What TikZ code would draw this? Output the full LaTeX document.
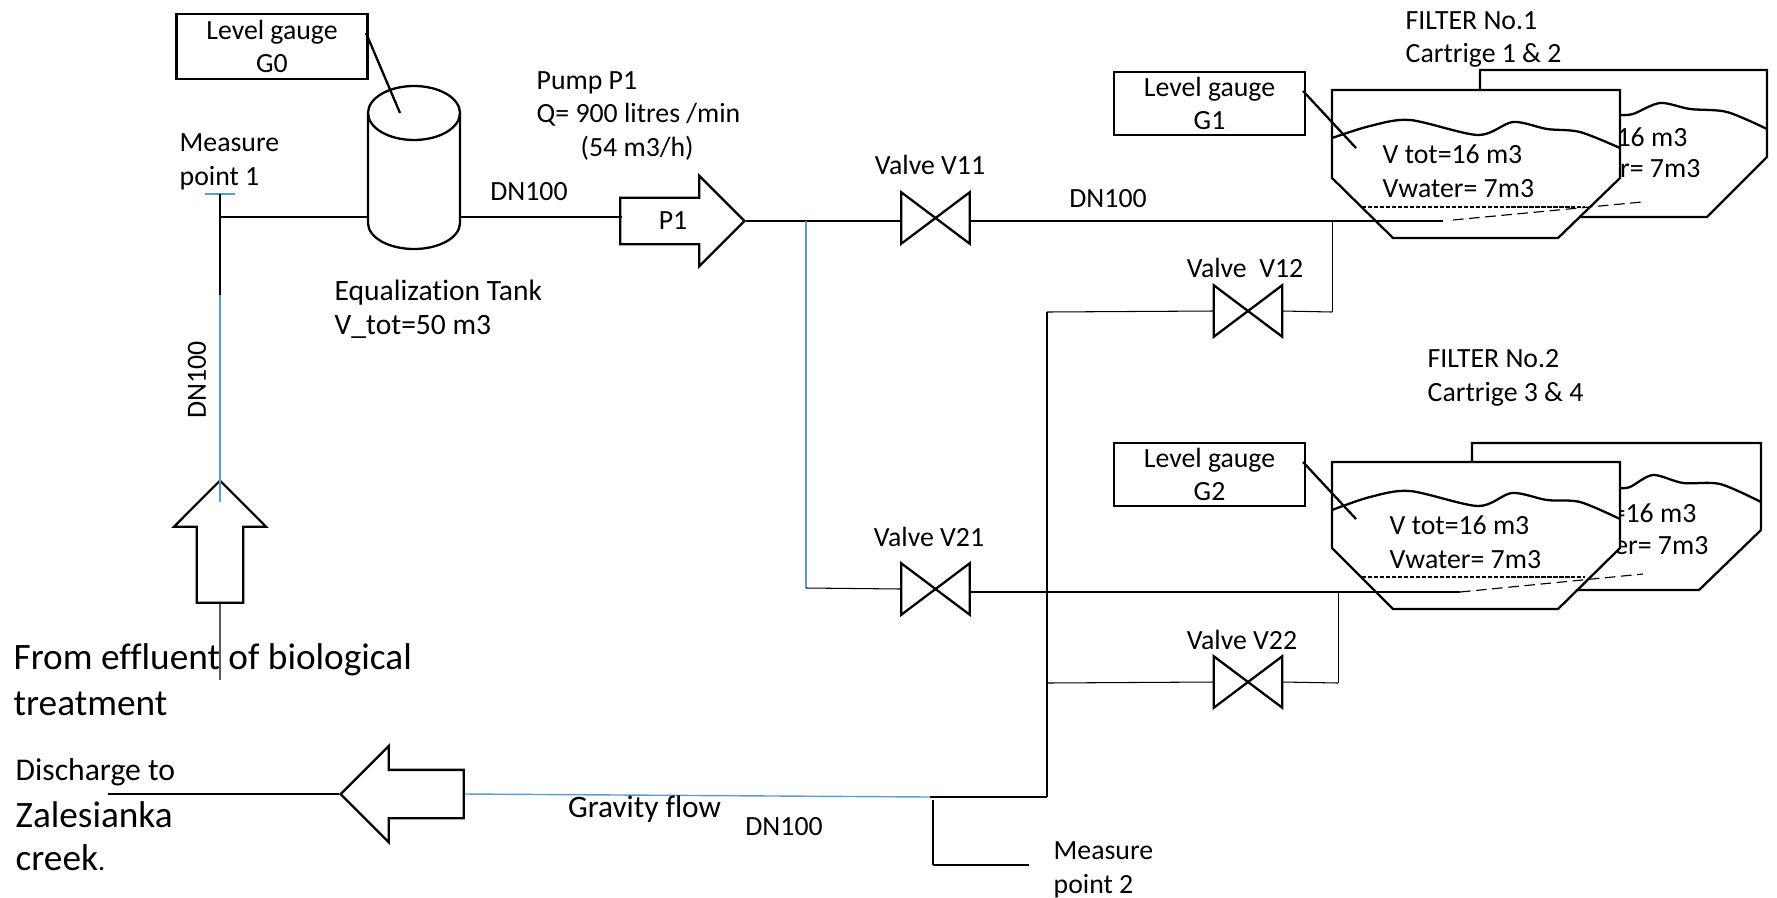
\documentclass[tikz,border=0pt]{standalone}
\usepackage{fontspec}
\setmainfont[Ligatures=CommonOff]{Carlito}
\usepackage{tikz}
\usetikzlibrary{shapes,arrows,positioning}
\definecolor{pipeblue}{HTML}{5B9BD5}
\newcommand{\smalltext}{\fontsize{7.9}{9.6}\selectfont}
\newcommand{\bigtext}{\fontsize{10.6}{13}\selectfont}
\tikzset{
      pipe/.style = {black, line width=0.3pt},
      bluepipe/.style = {pipeblue, line width=0.4pt},
      vessel/.style = {black, line width=0.65pt, line join=miter},
      gaugebox/.style = {draw, vessel, rectangle, align=center, inner sep=0pt, minimum width=1.91cm, minimum height=0.63cm, font=\smalltext},
      tag/.style = {align=left, anchor=west, inner sep=0pt, font=\smalltext},
      bigtag/.style = {align=left, anchor=west, inner sep=0pt, font=\bigtext},
      fineline/.style = {black, line width=0.3pt, dash pattern=on 1.2pt off 0.5pt},
      outlet/.style = {black, line width=0.33pt, dash pattern=on 3pt off 1.6pt},
      valve/.style = {rectangle, inner sep=0pt, minimum width=0.67cm, minimum height=0.5cm},
      bigarrow/.style = {draw, vessel, single arrow, single arrow tip angle=90, single arrow head indent=0pt, inner sep=0pt, text depth=0pt, anchor=tip},
    }

\begin{document}
\begin{tikzpicture}[x=0.01cm,y=-0.01cm]
          \useasboundingbox (0,0) rectangle (1777,897);

          \node [gaugebox, minimum height=0.65cm] (g0) at (272,46.5) {Level gauge\\G0};
          \node [gaugebox] (g1) at (1209.5,103.5) {Level gauge\\G1};
          \node [gaugebox] (g2) at (1209.5,474.5) {Level gauge\\G2};

          \draw [vessel] (368,113) -- (368,223) arc [start angle=180, end angle=0, x radius=46, y radius=26] -- (460,113);
          \draw [vessel] (414,113) ellipse [x radius=46, y radius=27];

          \node [bigarrow, text height=0.44cm, single arrow head extend=0.22cm, minimum height=1.24cm] (pump) at (746,221) {};
          \node [bigarrow, rotate=90, text height=0.44cm, single arrow head extend=0.23cm, minimum height=1.22cm] (inlet) at (220,479) {};
          \node [bigarrow, rotate=180, text height=0.46cm, single arrow head extend=0.24cm, minimum height=1.23cm] (outlet) at (339,794) {};

          \node [valve] (v11) at (935.5,218) {};
          \node [valve] (v12) at (1248,311) {};
          \node [valve] (v21) at (935.5,589) {};
          \node [valve] (v22) at (1248,682) {};
          \foreach \v in {v11,v12,v21,v22}
            \draw [vessel] (\v.north west) -- (\v.south east) -- (\v.north east) -- (\v.south west) -- cycle;

          \coordinate (mp1top) at (220,194);
          \coordinate (mp1left) at (205,194);
          \coordinate (mp1right) at (235,194);
          \coordinate (inlettee) at (220,217);
          \coordinate (tankin) at (368,217);
          \coordinate (tankout) at (460,217);
          \coordinate (pumpin) at (622,217);
          \coordinate (bluefrom) at (220,295);
          \coordinate (blueto) at (220,502);
          \coordinate (inletend) at (220,680);
          \coordinate (v21tee) at (806,221);
          \coordinate (v21turn) at (806,588);
          \coordinate (f1pipe) at (1443,221);
          \coordinate (f1tee) at (1332,221);
          \coordinate (f1turn) at (1332,312);
          \coordinate (v12turn) at (1047,312);
          \coordinate (v22tee) at (1047,683);
          \coordinate (f2pipe) at (1460,592);
          \coordinate (f2tee) at (1338,592);
          \coordinate (f2turn) at (1338,683);
          \coordinate (drainturn) at (1047,797);
          \coordinate (drainmid) at (930,797);
          \coordinate (outletend) at (108,794);
          \coordinate (mp2top) at (933,800);
          \coordinate (mp2turn) at (933,865);
          \coordinate (mp2end) at (1029,865);

          \draw [vessel] (1480,70) -- (1767,70) -- (1767,157) -- (1707,217) -- (1480,217) -- cycle;
          \draw [vessel] plot [smooth] coordinates {(1620,115) (1633,114) (1660,103) (1690,109) (1727,112) (1767,129)};
          \node [tag, anchor=east] (f1backa) at (1688,137) {16 m3};
          \node [tag, anchor=east] (f1backb) at (1701,169) {r= 7m3};
          \draw [vessel, fill=white] (1332,90) -- (1620,90) -- (1620,178) -- (1558,238) -- (1393,238) -- (1332,178) -- cycle;
          \draw [vessel] plot [smooth] coordinates {(1332,138) (1370,126) (1410,120) (1478,135) (1513,122) (1547,129) (1580,132) (1620,148)};
          \draw [fineline] (1362,207) -- (1585,207);
          \draw [outlet] (1453,220) -- (1642,202);

          \draw [vessel] (1472,443) -- (1761,443) -- (1761,530) -- (1699,590) -- (1472,590) -- cycle;
          \draw [vessel] plot [smooth] coordinates {(1620,488) (1630,487) (1653,475) (1683,483) (1720,484) (1761,502)};
          \node [tag, anchor=east] (f2backa) at (1697,513) {=16 m3};
          \node [tag, anchor=east] (f2backb) at (1709,546) {er= 7m3};
          \draw [vessel, fill=white] (1332,462) -- (1620,462) -- (1620,548) -- (1558,609) -- (1393,609) -- (1332,548) -- cycle;
          \draw [vessel] plot [smooth] coordinates {(1332,510) (1370,497) (1410,491) (1478,506) (1512,493) (1547,500) (1580,502) (1620,519)};
          \draw [fineline] (1362,577) -- (1585,577);
          \draw [outlet] (1460,592) -- (1643,574);

          \path (mp1left) edge[bluepipe] (mp1right);
          \path (mp1top) edge[pipe] (bluefrom);
          \path (bluefrom) edge[bluepipe] (blueto);
          \path (inlet.tail) edge[pipe, gray!70!black] (inletend);
          \path (inlettee) edge[pipe] (tankin);
          \path (tankout) edge[pipe] (pumpin);
          \path (pump.tip) edge[pipe] (v11.west |- pump.tip);
          \path (v21tee) edge[bluepipe] (v21turn);
          \path (v21turn) edge[pipe] (v21.west);
          \path (v11.east |- pump.tip) edge[pipe] (f1pipe);
          \path (v21.east |- f2pipe) edge[pipe] (f2pipe);
          \path (f1tee) edge[pipe] (f1turn);
          \path (f1turn) edge[pipe] (v12.east);
          \path (v12.west) edge[pipe] (v12turn);
          \path (v12turn) edge[pipe] (drainturn);
          \path (f2tee) edge[pipe] (f2turn);
          \path (f2turn) edge[pipe] (v22.east);
          \path (v22.west) edge[pipe] (v22tee);
          \path (drainturn) edge[pipe] (drainmid);
          \path (drainmid) edge[bluepipe] (outlet.tail);
          \path (outlet.tip) edge[pipe] (outletend);
          \path (mp2top) edge[pipe] (mp2turn);
          \path (mp2turn) edge[pipe] (mp2end);

          \coordinate (g0from) at (366,33);
          \coordinate (g0tip) at (400,113);
          \coordinate (g1from) at (1303,91);
          \coordinate (g1tip) at (1356,148);
          \coordinate (g2from) at (1303,462);
          \coordinate (g2tip) at (1356,519);
          \path (g0from) edge[vessel] (g0tip);
          \path (g1from) edge[vessel] (g1tip);
          \path (g2from) edge[vessel] (g2tip);

          \node [tag, anchor=center] (pumplabel) at (673,221) {P1};
          \node [tag] (f1text) at (1382,171.5) {V tot=16 m3\\Vwater= 7m3};
          \node [tag] (f2text) at (1389,542.5) {V tot=16 m3\\Vwater= 7m3};
          \node [tag] (f1title) at (1405,39.5) {FILTER No.1\\Cartrige 1 \& 2};
          \node [tag] (f2title) at (1427,377.5) {FILTER No.2\\Cartrige 3 \& 4};
          \node [tag] (mp1text) at (179,162) {Measure\\point 1};
          \node [tag] (pumptext) at (536,83) {Pump P1};
          \node [tag] (pumpq) at (536,115) {Q= 900 litres /min};
          \node [tag] (pumpflow) at (580,148) {(54 m3/h)};
          \node [tag, font=\fontsize{8.4}{9.6}\selectfont] (tanktext) at (334,309.5) {Equalization Tank\\V\_tot=50 m3};
          \node [tag, anchor=center] (dna) at (529,192) {DN100};
          \node [tag, anchor=center] (dnb) at (1108,199) {DN100};
          \node [tag, anchor=center, rotate=90] (dnc) at (197,380) {DN100};
          \node [tag, anchor=center] (dnd) at (784,827) {DN100};
          \node [tag, anchor=center] (v11text) at (930,165) {Valve V11};
          \node [tag, anchor=center] (v12text) at (1245,268) {Valve\ \ V12};
          \node [tag, anchor=center] (v21text) at (929,537) {Valve V21};
          \node [tag, anchor=center] (v22text) at (1242,640) {Valve V22};
          \node [tag, anchor=center, font=\fontsize{8.9}{10}\selectfont] (gravity) at (644.5,809) {Gravity flow};
          \node [tag] (mp2text) at (1053,870) {Measure\\point 2};
          \node [bigtag] (fromtext) at (13,680) {From effluent of biological\\treatment};
          \node [tag, font=\fontsize{9}{10}\selectfont] (discharge) at (15,772) {Discharge to};
          \node [bigtag] (creekname) at (15,815) {Zalesianka};
          \node [bigtag] (creek) at (15,858) {creek{\smalltext .}};
\end{tikzpicture}
\end{document}
